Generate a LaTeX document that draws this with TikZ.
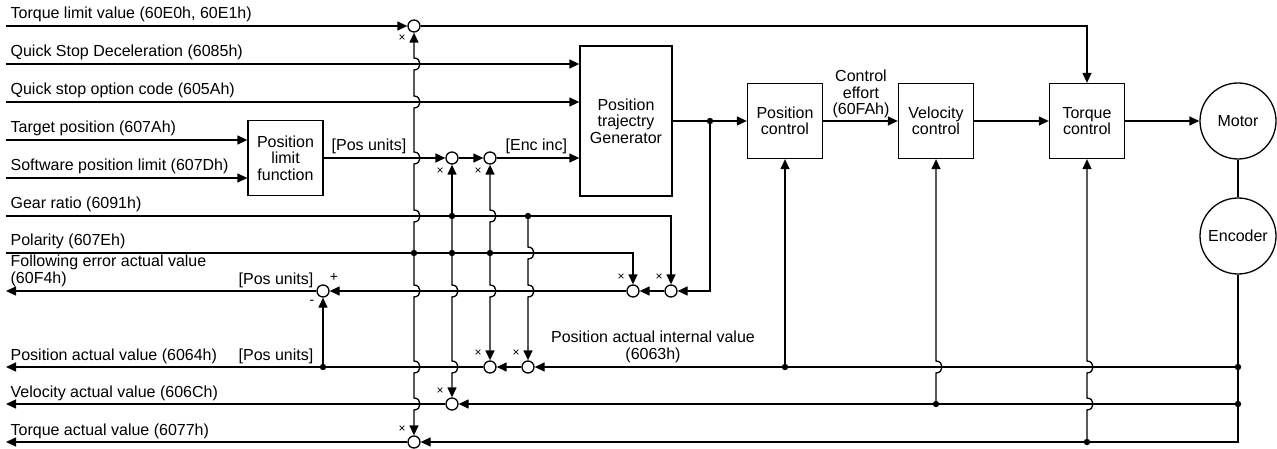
\documentclass[tikz,border=0pt]{standalone}
\usepackage{fontspec}
\setmainfont{Liberation Sans}
\usetikzlibrary{arrows.meta}
\tikzset{
  blk/.style={draw, align=center, minimum width=75pt, minimum height=75pt, inner sep=1pt},
  sumj/.style={draw, circle, minimum size=12pt, inner sep=0pt, fill=white},
  lbl/.style={anchor=base west, inner sep=0pt},
  xlab/.style={inner sep=0pt, font=\fontsize{12}{12}\selectfont},
  hopup/.style args={#1/#2}{insert path={-- (#1,#2+6) .. controls +(8,0) and +(8,0) .. (#1,#2-6)}},
  hopdn/.style args={#1/#2}{insert path={-- (#1,#2-6) .. controls +(8,0) and +(8,0) .. (#1,#2+6)}},
}
\begin{document}
\begin{tikzpicture}[x=1pt, y=-1pt, line width=1.3pt, >={Triangle[length=10pt,width=9pt]},
  font=\fontsize{16}{16.5}\selectfont]
\useasboundingbox (0,0) rectangle (1277,449);

\node[blk] (plf) at (285.5,158) {Position\\limit\\function};
\node[blk, minimum width=92pt, minimum height=150pt] (gen) at (626,121) {Position\\trajectry\\Generator};
\node[blk] (pc) at (785,121) {Position\\control};
\node[blk] (vc) at (936,121) {Velocity\\control};
\node[blk] (tqc) at (1087,121) {Torque\\control};
\node[draw, circle, minimum size=76pt, inner sep=0pt] (mot) at (1238,121) {Motor};
\node[draw, circle, minimum size=76pt, inner sep=0pt] (enc) at (1238,236) {Encoder};

\node[sumj] (cTL) at (414,26) {};
\node[sumj] (cP1) at (452,158) {};
\node[sumj] (cP2) at (490,158) {};
\node[sumj] (cFE1) at (671,291) {};
\node[sumj] (cFE2) at (633,291) {};
\node[sumj] (cFE3) at (323,291) {};
\node[sumj] (cA1) at (528,367) {};
\node[sumj] (cA2) at (490,367) {};
\node[sumj] (cVA) at (452,404) {};
\node[sumj] (cTA) at (414,442) {};

\coordinate (inTL) at (6,26);
\coordinate (inQSD) at (6,64);
\coordinate (inQSO) at (6,102);
\coordinate (inTP) at (6,140);
\coordinate (inSW) at (6,178);
\coordinate (inGR) at (6,216);
\coordinate (inPOL) at (6,253);
\coordinate (outFE) at (6,291);
\coordinate (outPA) at (6,367);
\coordinate (outVA) at (6,404);
\coordinate (outTA) at (6,442);

\coordinate (jGen) at (710,121);
\coordinate (jGR1) at (452,216);
\coordinate (jGR2) at (528,216);
\coordinate (jPOL1) at (414,253);
\coordinate (jPOL2) at (452,253);
\coordinate (jPOL3) at (490,253);
\coordinate (jPA) at (323,367);
\coordinate (jPC) at (785,367);
\coordinate (jEP) at (1238,367);
\coordinate (jVC) at (936,404);
\coordinate (jEV) at (1238,404);
\coordinate (jTQ) at (1087,442);

\draw[->] (inTL) -- (cTL);
\draw[->] (cTL) -| (tqc);
\draw[->] (inQSD) -- (inQSD -| gen.west);
\draw[->] (inQSO) -- (inQSO -| gen.west);
\draw[->] (inTP) -- (inTP -| plf.west);
\draw[->] (inSW) -- (inSW -| plf.west);
\draw[->] (plf) -- (cP1);
\draw[->] (cP1) -- (cP2);
\draw[->] (cP2) -- (cP2 -| gen.west);
\draw[->] (gen) -- (pc);
\draw[->] (pc) -- (vc);
\draw[->] (vc) -- (tqc);
\draw[->] (tqc) -- (mot);
\draw (mot) -- (enc);
\draw[->] (enc) |- (cTA);
\draw[->] (cTA) -- (outTA);
\draw[->] (jEP) -- (cA1);
\draw[->] (cA1) -- (cA2);
\draw[->] (cA2) -- (outPA);
\draw[->] (jEV) -- (cVA);
\draw[->] (cVA) -- (outVA);
\draw[->] (jGen) |- (cFE1);
\draw[->] (cFE1) -- (cFE2);
\draw[->] (cFE2) -- (cFE3);
\draw[->] (cFE3) -- (outFE);
\draw[->] (jPA) -- (cFE3);
\draw[->] (inGR) -| (cFE1);
\draw[->] (inPOL) -| (cFE2);
\draw[->] (jPC) -- (pc);
\draw[->] (jVC) [hopup=936/367] -- (vc);
\draw[->] (jTQ) [hopup=1087/404] [hopup=1087/367] -- (tqc);
\draw[->] (jPOL1) [hopup=414/216] [hopup=414/158] [hopup=414/102] [hopup=414/64] -- (cTL);
\draw[->] (jPOL1) [hopdn=414/291] [hopdn=414/367] [hopdn=414/404] -- (cTA);
\draw[->] (jGR1) -- (cP1);
\draw[->] (jGR1) -- (jPOL2) [hopdn=452/291] [hopdn=452/367] -- (cVA);
\draw[->] (jPOL3) [hopup=490/216] -- (cP2);
\draw[->] (jPOL3) [hopdn=490/291] -- (cA2);
\draw[->] (jGR2) [hopdn=528/253] [hopdn=528/291] -- (cA1);

\foreach \j in {jGen,jGR1,jGR2,jPOL1,jPOL2,jPOL3,jPA,jPC,jEP,jVC,jEV,jTQ}
  \fill (\j) circle[radius=3.2pt];

\node[lbl] (tTL) at (10,19) {Torque limit value (60E0h, 60E1h)};
\node[lbl] (tQSD) at (10,57) {Quick Stop Deceleration (6085h)};
\node[lbl] (tQSO) at (10,95) {Quick stop option code (605Ah)};
\node[lbl] (tTP) at (10,133) {Target position (607Ah)};
\node[lbl] (tSW) at (10,171) {Software position limit (607Dh)};
\node[lbl] (tGR) at (10,209) {Gear ratio (6091h)};
\node[lbl] (tPOL) at (10,246) {Polarity (607Eh)};
\node[lbl, anchor=south west, align=left] (tFE) at (10,287) {Following error actual value\\(60F4h)};
\node[lbl] (tPA) at (10,360) {Position actual value (6064h)};
\node[lbl] (tVA) at (10,397) {Velocity actual value (606Ch)};
\node[lbl] (tTA) at (10,435) {Torque actual value (6077h)};
\node[lbl] (uPos1) at (331,151) {[Pos units]};
\node[lbl] (uEnc) at (505,151) {[Enc inc]};
\node[lbl, anchor=base east] (uPos2) at (314,284) {[Pos units]};
\node[lbl, anchor=base east] (uPos3) at (314,360) {[Pos units]};
\node[align=center] (tPAI) at (653,347) {Position actual internal value\\(6063h)};
\node[align=center] (tCE) at (861,94) {Control\\effort\\(60FAh)};

\foreach \px/\py [count=\i] in {402/38, 440/171, 478/171, 621/277, 659/277, 478/353, 516/353, 440/391, 402/429}
  \node[xlab] (mx\i) at (\px,\py) {×};
\node[xlab, font=\fontsize{14}{14}\selectfont] (plus) at (334,277) {+};
\node[xlab, font=\fontsize{14}{14}\selectfont] (minus) at (312,302) {-};
\end{tikzpicture}
\end{document}
